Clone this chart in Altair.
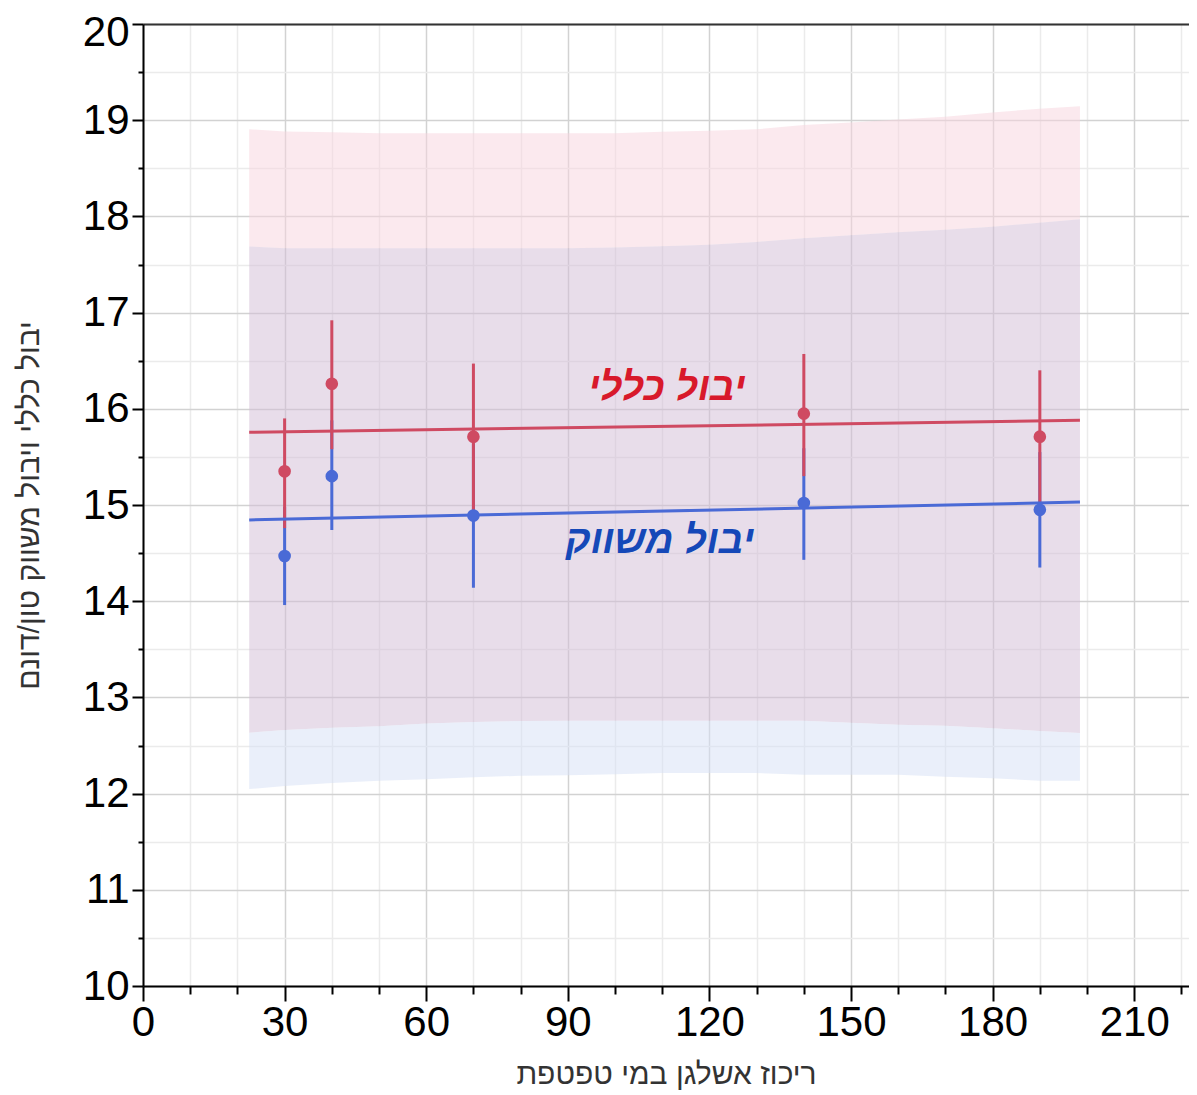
import altair as alt
import pandas as pd

# ---- data ----
dose = [30, 40, 70, 140, 190]
total_mean = [15.35, 16.26, 15.71, 15.95, 15.71]
total_lo = [14.76, 15.58, 14.95, 15.30, 15.02]
total_hi = [15.90, 16.92, 16.47, 16.57, 16.40]
market_mean = [14.47, 15.30, 14.89, 15.02, 14.95]
market_lo = [13.96, 14.74, 14.14, 14.43, 14.35]
market_hi = [14.98, 15.88, 15.64, 15.59, 15.55]

fit_x = [22.5, 198.5]
total_fit = [15.756, 15.88]
market_fit = [14.845, 15.03]

band_x = [22.5, 30, 40, 50, 60, 70, 80, 90, 100, 110, 120, 130, 140, 150, 160, 170, 180, 190, 198.5]
total_band_hi = [18.906, 18.882, 18.875, 18.864, 18.864, 18.864, 18.864, 18.864, 18.864, 18.880,
                 18.890, 18.905, 18.951, 18.975, 19.006, 19.037, 19.080, 19.120, 19.144]
market_band_hi = [17.688, 17.668, 17.668, 17.668, 17.668, 17.668, 17.668, 17.668, 17.678, 17.690,
                  17.705, 17.735, 17.772, 17.805, 17.835, 17.860, 17.893, 17.935, 17.971]
total_band_lo = [12.633, 12.660, 12.684, 12.700, 12.728, 12.743, 12.755, 12.757, 12.757, 12.757,
                 12.757, 12.757, 12.757, 12.736, 12.715, 12.705, 12.680, 12.650, 12.630]
market_band_lo = [12.047, 12.080, 12.109, 12.133, 12.150, 12.171, 12.185, 12.190, 12.200, 12.215,
                  12.215, 12.215, 12.195, 12.195, 12.195, 12.174, 12.160, 12.133, 12.133]

label_text = ["יבול כללי", "יבול משווק"]
label_x = [111.0, 109.5]
label_y = [16.22, 14.63]

x_ticks = list(range(0, 221, 10))
y_ticks = [10 + 0.5 * i for i in range(21)]

x_title = "ריכוז אשלגן במי טפטפת"
y_title = "יבול כללי ויבול משווק טון/דונם"

RED = "#cf4a62"
BLUE = "#4a6ad6"
FONT = "Liberation Sans"

# ---- tables ----
pts = pd.DataFrame({"x": dose, "tm": total_mean, "tl": total_lo, "th": total_hi,
                    "mm": market_mean, "ml": market_lo, "mh": market_hi})
fit = pd.DataFrame({"x": fit_x, "t": total_fit, "m": market_fit})
band = pd.DataFrame({"x": band_x, "th": total_band_hi, "mh": market_band_hi,
                     "tl": total_band_lo, "ml": market_band_lo})
labels = pd.DataFrame({"x": label_x, "y": label_y, "text": label_text,
                       "c": ["#d8192b", "#1548b8"]})

xs = alt.Scale(domain=[0, 221.6], nice=False, zero=False)
ys = alt.Scale(domain=[10, 20], nice=False, zero=False)

x_axis = alt.Axis(
    values=x_ticks,
    labelExpr="datum.value % 30 === 0 ? format(datum.value, 'd') : ''",
    grid=True,
    gridColor={"condition": {"test": "datum.value % 30 === 0", "value": "#d2d2d2"}, "value": "#ebebeb"},
    gridWidth=1.5,
    tickSize={"condition": {"test": "datum.value % 30 === 0", "value": 15}, "value": 8},
    tickColor="#000", tickWidth=2,
    domainColor="#000", domainWidth=2,
    labelFont=FONT, labelFontSize=42, labelColor="#000", labelPadding=1,
    labelFlush=False, labelOverlap=False,
    title=x_title, titleFont=FONT, titleFontSize=30, titleFontWeight="normal",
    titleColor="#333", titleBaseline="alphabetic", titleY=97,
)
y_axis = alt.Axis(
    values=y_ticks,
    labelExpr="datum.value % 1 === 0 ? format(datum.value, 'd') : ''",
    grid=True,
    gridColor={"condition": {"test": "datum.value % 1 === 0", "value": "#d2d2d2"}, "value": "#ebebeb"},
    gridWidth=1.5,
    tickSize={"condition": {"test": "datum.value % 1 === 0", "value": 11}, "value": 5},
    tickColor="#000", tickWidth=2,
    domainColor="#000", domainWidth=2,
    labelFont=FONT, labelFontSize=42, labelColor="#000", labelPadding=3,
    labelOffset={"condition": {"test": "datum.value === 20", "value": 8}, "value": 0},
    labelFlush=False, labelOverlap=False,
    title=y_title, titleFont=FONT, titleFontSize=30, titleFontWeight="normal",
    titleColor="#333", titleAngle=270, titleAlign="center", titleBaseline="middle",
    titleX=-114, titleY=481,
)
top_axis = alt.Axis(orient="top", labels=False, ticks=False, grid=False,
                    domainColor="#333", domainWidth=2, title=None)

bb = alt.Chart(band)
pink = bb.mark_area(color="#f7d3dd", opacity=0.5).encode(
    x=alt.X("x:Q", scale=xs, axis=x_axis),
    y=alt.Y("mh:Q", scale=ys, axis=y_axis),
    y2="th:Q",
)
purple = bb.mark_area(color="#d1bbd5", opacity=0.5).encode(
    x=alt.X("x:Q", scale=xs, axis=None),
    y=alt.Y("tl:Q", scale=ys, axis=None),
    y2="mh:Q",
)
lightblue = bb.mark_area(color="#d5dff5", opacity=0.5).encode(
    x=alt.X("x:Q", scale=xs, axis=None),
    y=alt.Y("ml:Q", scale=ys, axis=None),
    y2="tl:Q",
)

pb = alt.Chart(pts)
bar_m = pb.mark_rule(color=BLUE, strokeWidth=3).encode(
    x=alt.X("x:Q", scale=xs, axis=None), y=alt.Y("ml:Q", scale=ys, axis=None), y2="mh:Q")
bar_t = pb.mark_rule(color=RED, strokeWidth=3).encode(
    x=alt.X("x:Q", scale=xs, axis=None), y=alt.Y("tl:Q", scale=ys, axis=None), y2="th:Q")

fb = alt.Chart(fit)
line_t = fb.mark_line(color=RED, strokeWidth=3).encode(
    x=alt.X("x:Q", scale=xs, axis=top_axis), y=alt.Y("t:Q", scale=ys, axis=None))
line_m = fb.mark_line(color=BLUE, strokeWidth=3).encode(
    x=alt.X("x:Q", scale=xs, axis=None), y=alt.Y("m:Q", scale=ys, axis=None))

pt_m = pb.mark_circle(color=BLUE, size=160, opacity=1).encode(
    x=alt.X("x:Q", scale=xs, axis=None), y=alt.Y("mm:Q", scale=ys, axis=None))
pt_t = pb.mark_circle(color=RED, size=160, opacity=1).encode(
    x=alt.X("x:Q", scale=xs, axis=None), y=alt.Y("tm:Q", scale=ys, axis=None))

txt = alt.Chart(labels).mark_text(
    font=FONT, fontSize=39, fontWeight="bold", fontStyle="italic",
    align="center", baseline="middle",
).encode(
    x=alt.X("x:Q", scale=xs, axis=None),
    y=alt.Y("y:Q", scale=ys, axis=None),
    text="text:N",
    color=alt.Color("c:N", scale=None),
)

chart = alt.layer(
    pink, purple, lightblue, bar_m, bar_t, line_t, line_m, pt_m, pt_t, txt
).resolve_axis(x="independent", y="independent").properties(
    width=1046, height=962,
    padding={"left": 135, "top": 16, "right": 0, "bottom": 104},
    autosize=alt.AutoSizeParams(type="none"),
).configure_view(stroke=None)

chart.save("out.html", embed_options={"renderer": "svg", "actions": False})
